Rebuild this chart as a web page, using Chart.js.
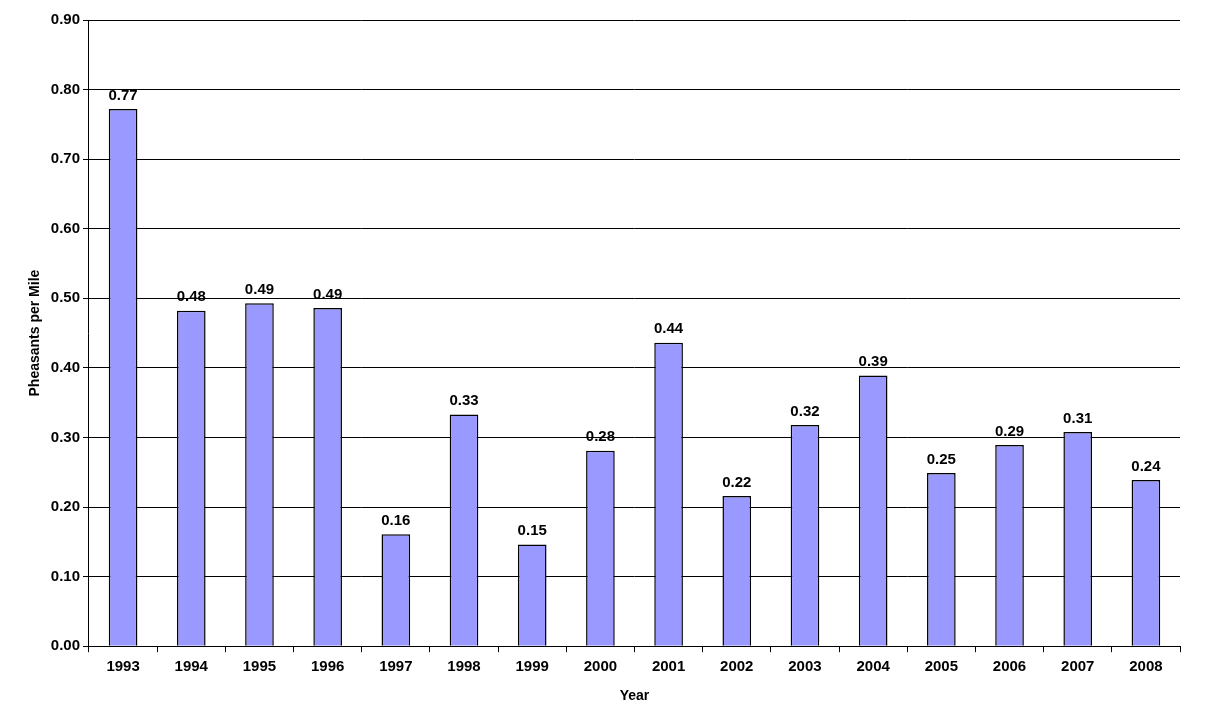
<!DOCTYPE html>
<html><head><meta charset="utf-8">
<script src="https://cdn.jsdelivr.net/npm/chart.js@4"></script>
<style>html,body{margin:0;padding:0;background:#fff}#wrap{width:1206px;height:709px}</style>
</head><body><div id="wrap"><canvas id="c"></canvas></div>
<script>
const years = ['1993','1994','1995','1996','1997','1998','1999','2000','2001','2002','2003','2004','2005','2006','2007','2008'];
const pheasants = [0.772,0.482,0.493,0.486,0.161,0.333,0.146,0.281,0.436,0.216,0.318,0.389,0.249,0.289,0.308,0.239];

const barLabels = {
  id: 'barLabels',
  afterDatasetsDraw(chart) {
    const ctx = chart.ctx;
    ctx.save();
    ctx.font = 'bold 15px Arial, "Liberation Sans"';
    ctx.fillStyle = '#000';
    ctx.textAlign = 'center';
    ctx.textBaseline = 'bottom';
    chart.getDatasetMeta(0).data.forEach((bar, i) => {
      ctx.fillText(pheasants[i].toFixed(2), bar.x, bar.y - 6);
    });
    ctx.restore();
  }
};

Chart.defaults.font.family = 'Arial, "Liberation Sans"';
Chart.defaults.color = '#000';
new Chart(document.getElementById('c'), {
  type: 'bar',
  data: {
    labels: years,
    datasets: [{
      data: pheasants,
      backgroundColor: '#9999FF',
      borderColor: '#000',
      borderWidth: 1.5,
      categoryPercentage: 1,
      barPercentage: 0.42
    }]
  },
  options: {
    responsive: true,
    maintainAspectRatio: false,
    animation: false,
    layout: { padding: { top: 20, right: 26, left: 23, bottom: 0 } },
    plugins: { legend: { display: false }, tooltip: { enabled: false } },
    scales: {
      x: {
        grid: { offset: true, drawOnChartArea: false, color: '#000', tickLength: 6 },
        border: { color: '#000' },
        ticks: { font: { size: 15, weight: 'bold' }, padding: 6 },
        title: { display: true, text: 'Year', font: { size: 14, weight: 'bold' }, padding: { top: 6 } }
      },
      y: {
        min: 0, max: 0.9,
        grid: { color: '#000', lineWidth: 1, tickLength: 6 },
        border: { color: '#000' },
        ticks: { stepSize: 0.1, font: { size: 15, weight: 'bold' }, callback: v => v.toFixed(2) },
        title: { display: true, text: 'Pheasants per Mile', font: { size: 14, weight: 'bold' } }
      }
    }
  },
  plugins: [barLabels]
});
</script></body></html>
